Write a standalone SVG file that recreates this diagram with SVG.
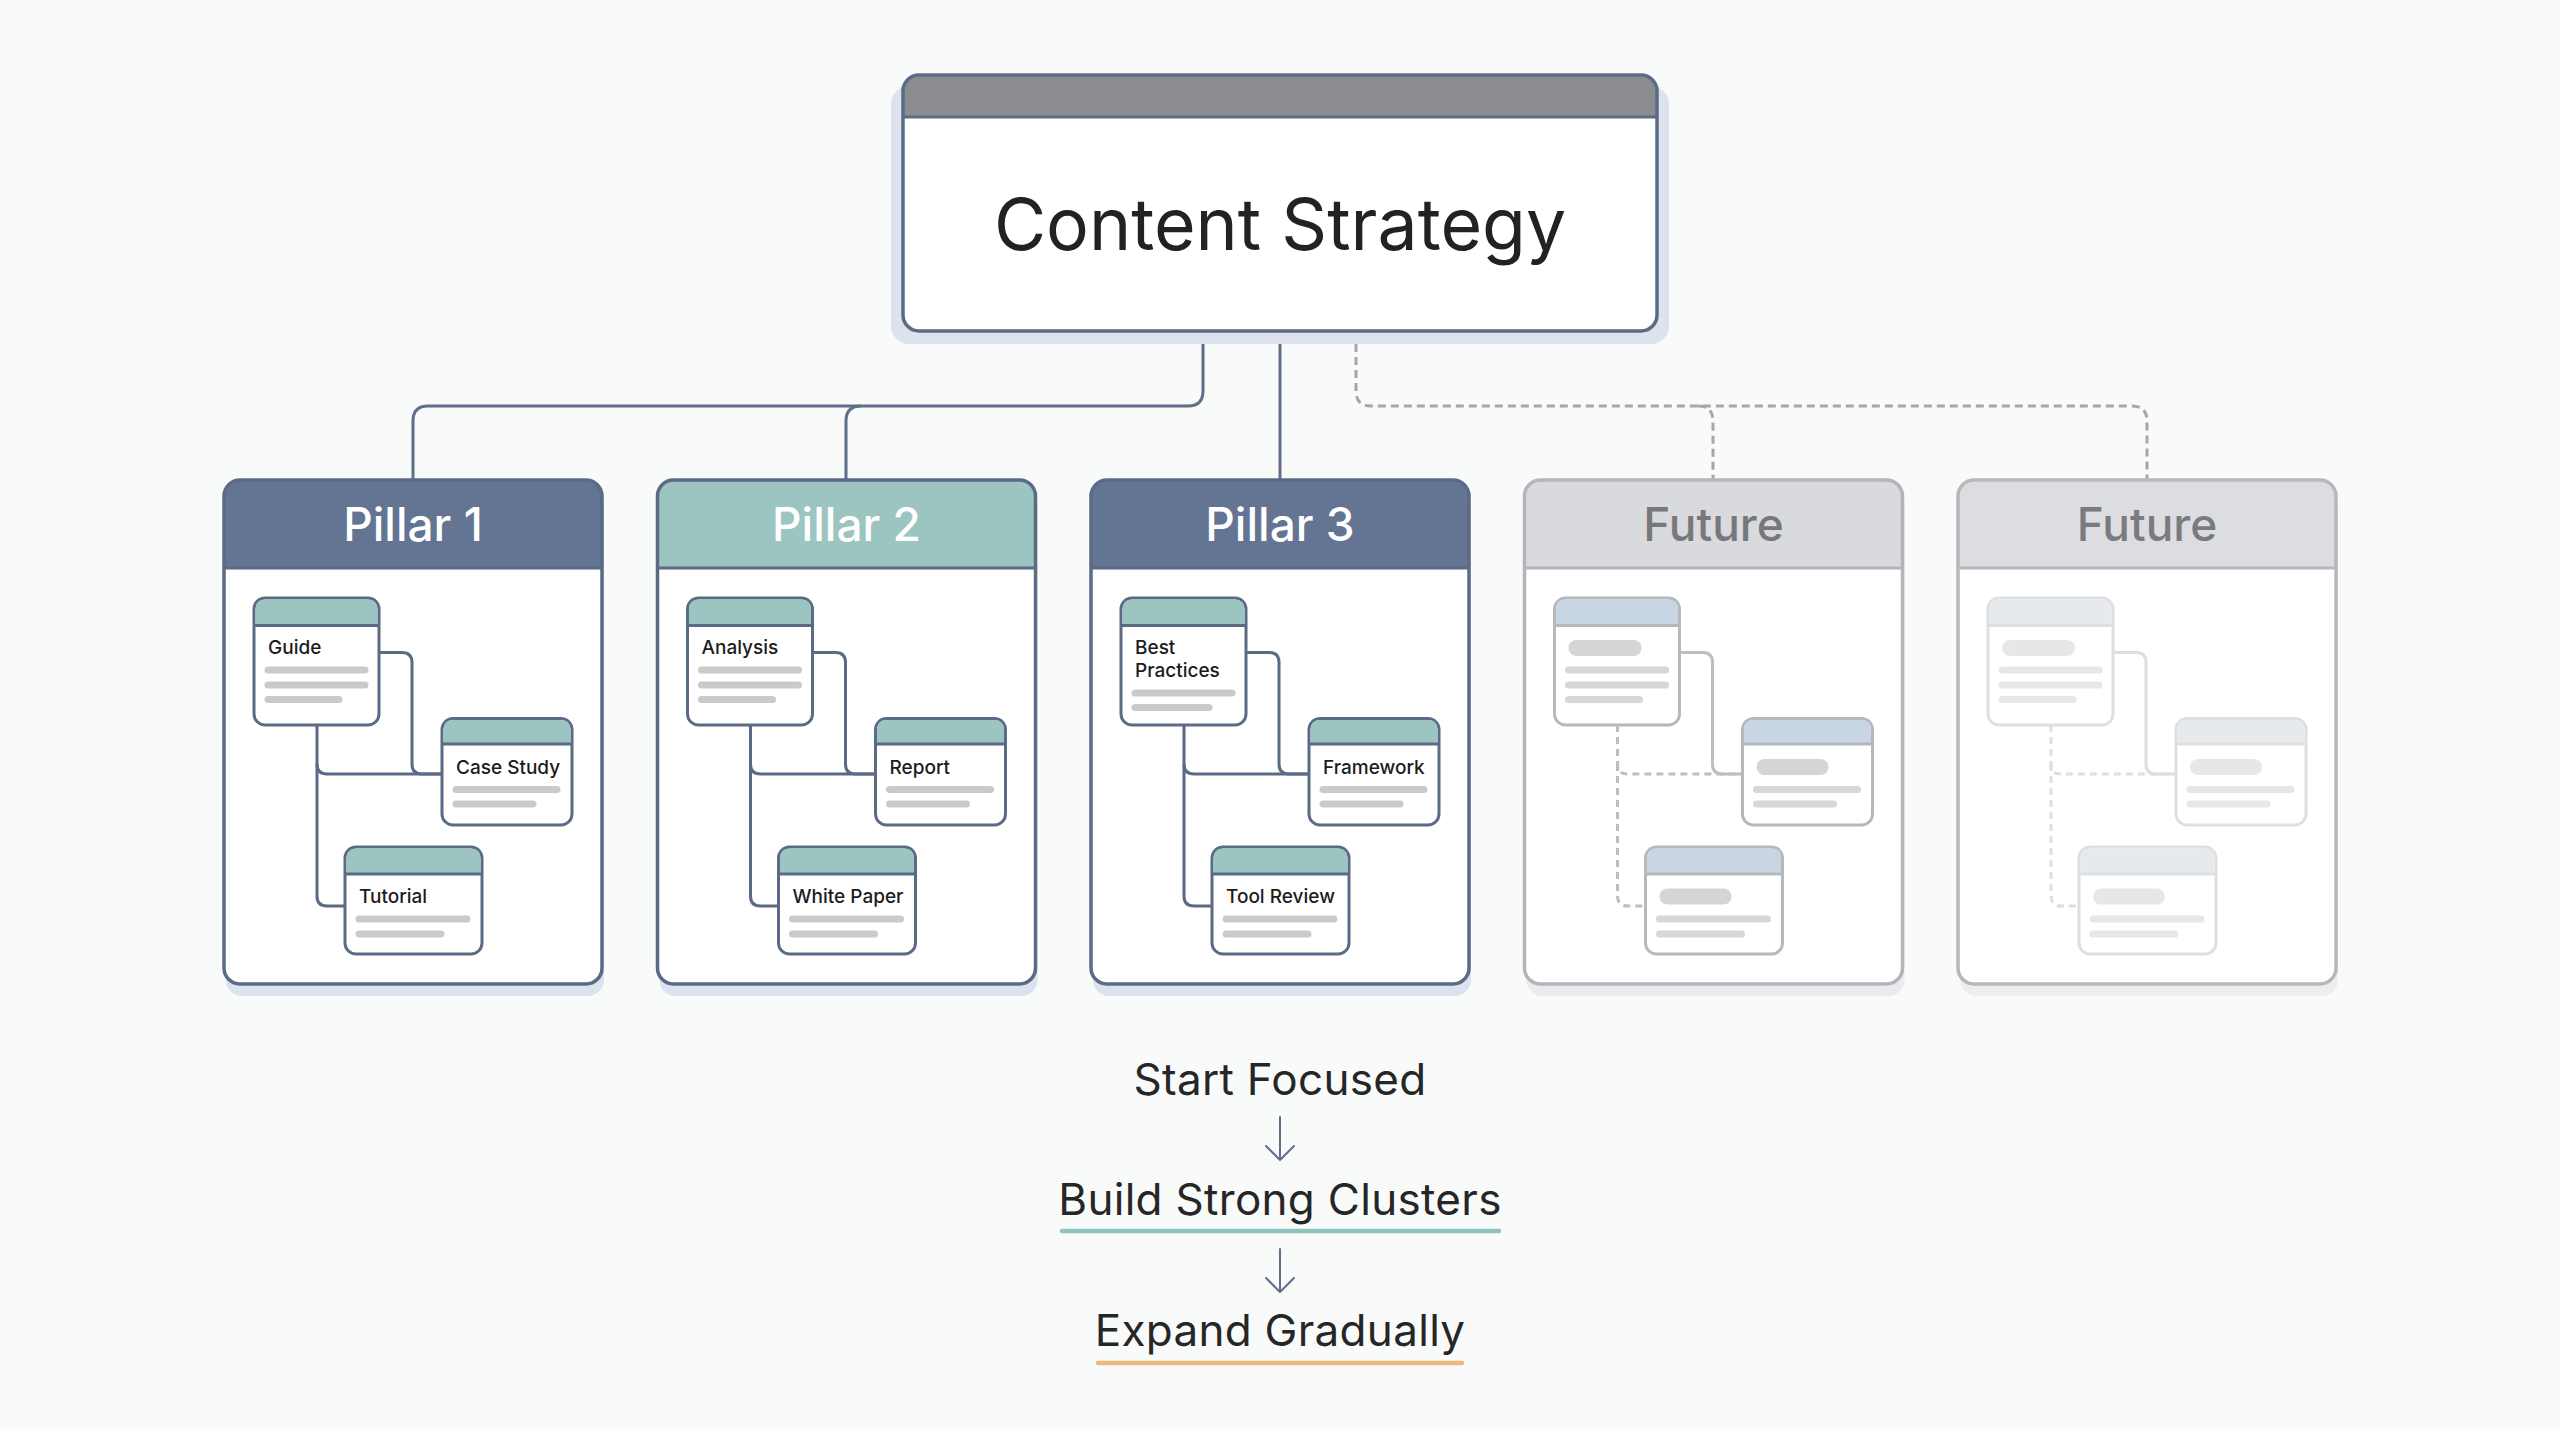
<svg xmlns="http://www.w3.org/2000/svg" width="2560" height="1429" viewBox="0 0 2560 1429">
<defs>
<style>
.bg{fill:#f9fafa}
.conn{fill:none;stroke:#5f6f89;stroke-width:3;stroke-linejoin:round}
.dash{fill:none;stroke:#a4a6aa;stroke-width:3;stroke-dasharray:8 5}
.hdr-blue{fill:#637592}
.hdr-teal{fill:#9cc5c2}
.title{font-family:Inter,"Noto Sans",sans-serif;font-size:46px;font-weight:500;fill:#ffffff;text-anchor:middle}
.lbl{font-family:Inter,"Noto Sans",sans-serif;font-size:19px;font-weight:500;fill:#1c1c1c}
.gl{stroke:#c9cacc;stroke-width:7;stroke-linecap:round}
.card{fill:#ffffff;stroke:#5b6b86;stroke-width:3}
.chdr{fill:#9cc5c2}
.inner{fill:none;stroke:#5b6b86;stroke-width:3}
.big{font-family:Inter,"Noto Sans",sans-serif;font-size:44px;letter-spacing:0.3px;fill:#262626;text-anchor:middle}
.shadow{fill:#dde3ee}
</style>
</defs>
<rect class="bg" x="0" y="0" width="2560" height="1429"/>

<g id="connectors">
<path class="conn" d="M1203,331 V391 Q1203,406 1188,406 H428 Q413,406 413,421 V480"/>
<path class="conn" d="M861,406 Q846,406 846,421 V480"/>
<path class="conn" d="M1280,331 V480"/>
<path class="dash" d="M1356,331 V391 Q1356,406 1371,406 H2132 Q2147,406 2147,421 V480"/>
<path class="dash" d="M1698,406 Q1713,406 1713,421 V480"/>
</g>

<g id="content-strategy">
<rect class="shadow" x="891" y="86" width="778" height="258" rx="18"/>
<rect x="903" y="75" width="754" height="256" rx="16" fill="#ffffff"/>
<path d="M903,117 V91 Q903,75 919,75 H1641 Q1657,75 1657,91 V117 Z" fill="#8b8c90"/>
<line x1="903" y1="117" x2="1657" y2="117" stroke="#5b6b86" stroke-width="3"/>
<rect x="903" y="75" width="754" height="256" rx="16" fill="none" stroke="#5b6b86" stroke-width="3.5"/>
<text x="1280" y="250" font-family="Inter,'Noto Sans',sans-serif" font-size="71.5" fill="#222222" text-anchor="middle">Content Strategy</text>
</g>

<!-- Pillar 1 -->
<g id="pillar1" transform="translate(224,0)">
<rect class="shadow" x="2" y="491" width="378" height="505" rx="16"/>
<rect x="0" y="480" width="378" height="504" rx="16" fill="#ffffff"/>
<path class="hdr-blue" d="M0,568 V496 Q0,480 16,480 H362 Q378,480 378,496 V568 Z"/>
<line x1="0" y1="568" x2="378" y2="568" stroke="#5b6b86" stroke-width="3"/>
<rect x="0" y="480" width="378" height="504" rx="16" fill="none" stroke="#5b6b86" stroke-width="3.5"/>
<text class="title" x="189" y="541">Pillar 1</text>
<path class="inner" d="M155,652.5 H178 Q188,652.5 188,662.5 V764 Q188,774 198,774 H218"/>
<path class="inner" d="M93,725 V764 Q93,774 103,774 H218"/>
<path class="inner" d="M93,764 V896 Q93,906 103,906 H121"/>
<g id="p1-guide">
<rect class="card" x="30" y="598" width="125" height="127" rx="11"/>
<path class="chdr" d="M31.5,625.5 V609 Q31.5,599.5 41,599.5 H144 Q153.5,599.5 153.5,609 V625.5 Z"/>
<line x1="30" y1="625.5" x2="155" y2="625.5" stroke="#5b6b86" stroke-width="3"/>
<text class="lbl" x="44" y="654">Guide</text>
<line class="gl" x1="44" y1="670" x2="141" y2="670"/>
<line class="gl" x1="44" y1="685" x2="141" y2="685"/>
<line class="gl" x1="44" y1="699.5" x2="115" y2="699.5"/>
</g>
<g id="p1-case">
<rect class="card" x="218" y="718.5" width="130" height="106.5" rx="11"/>
<path class="chdr" d="M219.5,744 V729.5 Q219.5,720 229,720 H337 Q346.5,720 346.5,729.5 V744 Z"/>
<line x1="218" y1="744" x2="348" y2="744" stroke="#5b6b86" stroke-width="3"/>
<text class="lbl" x="232" y="774">Case Study</text>
<line class="gl" x1="232" y1="789.5" x2="333" y2="789.5"/>
<line class="gl" x1="232" y1="804" x2="309" y2="804"/>
</g>
<g id="p1-tutorial">
<rect class="card" x="121" y="847" width="137" height="107" rx="11"/>
<path class="chdr" d="M122.5,874 V858 Q122.5,848.5 132,848.5 H247 Q256.5,848.5 256.5,858 V874 Z"/>
<line x1="121" y1="874" x2="258" y2="874" stroke="#5b6b86" stroke-width="3"/>
<text class="lbl" x="135" y="902.5">Tutorial</text>
<line class="gl" x1="135" y1="919" x2="243" y2="919"/>
<line class="gl" x1="135" y1="934" x2="217" y2="934"/>
</g>
</g>

<!-- Pillar 2 -->
<g id="pillar2" transform="translate(657.5,0)">
<rect class="shadow" x="2" y="491" width="378" height="505" rx="16"/>
<rect x="0" y="480" width="378" height="504" rx="16" fill="#ffffff"/>
<path class="hdr-teal" d="M0,568 V496 Q0,480 16,480 H362 Q378,480 378,496 V568 Z"/>
<line x1="0" y1="568" x2="378" y2="568" stroke="#5b6b86" stroke-width="3"/>
<rect x="0" y="480" width="378" height="504" rx="16" fill="none" stroke="#5b6b86" stroke-width="3.5"/>
<text class="title" x="189" y="541">Pillar 2</text>
<path class="inner" d="M155,652.5 H178 Q188,652.5 188,662.5 V764 Q188,774 198,774 H218"/>
<path class="inner" d="M93,725 V764 Q93,774 103,774 H218"/>
<path class="inner" d="M93,764 V896 Q93,906 103,906 H121"/>
<g id="p2-analysis">
<rect class="card" x="30" y="598" width="125" height="127" rx="11"/>
<path class="chdr" d="M31.5,625.5 V609 Q31.5,599.5 41,599.5 H144 Q153.5,599.5 153.5,609 V625.5 Z"/>
<line x1="30" y1="625.5" x2="155" y2="625.5" stroke="#5b6b86" stroke-width="3"/>
<text class="lbl" x="44" y="654">Analysis</text>
<line class="gl" x1="44" y1="670" x2="141" y2="670"/>
<line class="gl" x1="44" y1="685" x2="141" y2="685"/>
<line class="gl" x1="44" y1="699.5" x2="115" y2="699.5"/>
</g>
<g id="p2-report">
<rect class="card" x="218" y="718.5" width="130" height="106.5" rx="11"/>
<path class="chdr" d="M219.5,744 V729.5 Q219.5,720 229,720 H337 Q346.5,720 346.5,729.5 V744 Z"/>
<line x1="218" y1="744" x2="348" y2="744" stroke="#5b6b86" stroke-width="3"/>
<text class="lbl" x="232" y="774">Report</text>
<line class="gl" x1="232" y1="789.5" x2="333" y2="789.5"/>
<line class="gl" x1="232" y1="804" x2="309" y2="804"/>
</g>
<g id="p2-whitepaper">
<rect class="card" x="121" y="847" width="137" height="107" rx="11"/>
<path class="chdr" d="M122.5,874 V858 Q122.5,848.5 132,848.5 H247 Q256.5,848.5 256.5,858 V874 Z"/>
<line x1="121" y1="874" x2="258" y2="874" stroke="#5b6b86" stroke-width="3"/>
<text class="lbl" x="135" y="902.5">White Paper</text>
<line class="gl" x1="135" y1="919" x2="243" y2="919"/>
<line class="gl" x1="135" y1="934" x2="217" y2="934"/>
</g>
</g>

<!-- Pillar 3 -->
<g id="pillar3" transform="translate(1091,0)">
<rect class="shadow" x="2" y="491" width="378" height="505" rx="16"/>
<rect x="0" y="480" width="378" height="504" rx="16" fill="#ffffff"/>
<path class="hdr-blue" d="M0,568 V496 Q0,480 16,480 H362 Q378,480 378,496 V568 Z"/>
<line x1="0" y1="568" x2="378" y2="568" stroke="#5b6b86" stroke-width="3"/>
<rect x="0" y="480" width="378" height="504" rx="16" fill="none" stroke="#5b6b86" stroke-width="3.5"/>
<text class="title" x="189" y="541">Pillar 3</text>
<path class="inner" d="M155,652.5 H178 Q188,652.5 188,662.5 V764 Q188,774 198,774 H218"/>
<path class="inner" d="M93,725 V764 Q93,774 103,774 H218"/>
<path class="inner" d="M93,764 V896 Q93,906 103,906 H121"/>
<g id="p3-best">
<rect class="card" x="30" y="598" width="125" height="127" rx="11"/>
<path class="chdr" d="M31.5,625.5 V609 Q31.5,599.5 41,599.5 H144 Q153.5,599.5 153.5,609 V625.5 Z"/>
<line x1="30" y1="625.5" x2="155" y2="625.5" stroke="#5b6b86" stroke-width="3"/>
<text class="lbl" x="44" y="654">Best</text>
<text class="lbl" x="44" y="676.5">Practices</text>
<line class="gl" x1="44" y1="693" x2="141" y2="693"/>
<line class="gl" x1="44" y1="707.5" x2="118" y2="707.5"/>
</g>
<g id="p3-framework">
<rect class="card" x="218" y="718.5" width="130" height="106.5" rx="11"/>
<path class="chdr" d="M219.5,744 V729.5 Q219.5,720 229,720 H337 Q346.5,720 346.5,729.5 V744 Z"/>
<line x1="218" y1="744" x2="348" y2="744" stroke="#5b6b86" stroke-width="3"/>
<text class="lbl" x="232" y="774">Framework</text>
<line class="gl" x1="232" y1="789.5" x2="333" y2="789.5"/>
<line class="gl" x1="232" y1="804" x2="309" y2="804"/>
</g>
<g id="p3-toolreview">
<rect class="card" x="121" y="847" width="137" height="107" rx="11"/>
<path class="chdr" d="M122.5,874 V858 Q122.5,848.5 132,848.5 H247 Q256.5,848.5 256.5,858 V874 Z"/>
<line x1="121" y1="874" x2="258" y2="874" stroke="#5b6b86" stroke-width="3"/>
<text class="lbl" x="135" y="902.5">Tool Review</text>
<line class="gl" x1="135" y1="919" x2="243" y2="919"/>
<line class="gl" x1="135" y1="934" x2="217" y2="934"/>
</g>
</g>

<!-- Future 1 -->
<g id="future1" transform="translate(1524.5,0)">
<rect x="2" y="491" width="378" height="505" rx="16" fill="#e9ebee"/>
<rect x="0" y="480" width="378" height="504" rx="16" fill="#ffffff"/>
<path d="M0,568 V496 Q0,480 16,480 H362 Q378,480 378,496 V568 Z" fill="#d9dadd"/>
<line x1="0" y1="568" x2="378" y2="568" stroke="#b3b5b9" stroke-width="3"/>
<rect x="0" y="480" width="378" height="504" rx="16" fill="none" stroke="#b3b5b9" stroke-width="3.5"/>
<text class="title" x="189" y="541" style="fill:#77787c">Future</text>
<path d="M155,652.5 H178 Q188,652.5 188,662.5 V764 Q188,774 198,774 H218" fill="none" stroke="#bcbec2" stroke-width="3"/>
<path d="M93,725 V764 Q93,774 103,774 H218" fill="none" stroke="#bcbec2" stroke-width="3" stroke-dasharray="7 5"/>
<path d="M93,764 V896 Q93,906 103,906 H121" fill="none" stroke="#bcbec2" stroke-width="3" stroke-dasharray="7 5"/>
<g id="f1-a">
<rect x="30" y="598" width="125" height="127" rx="11" fill="#ffffff" stroke="#b6b8bc" stroke-width="3"/>
<path d="M31.5,625.5 V609 Q31.5,599.5 41,599.5 H144 Q153.5,599.5 153.5,609 V625.5 Z" fill="#c8d5e2"/>
<line x1="30" y1="625.5" x2="155" y2="625.5" stroke="#b6b8bc" stroke-width="3"/>
<rect x="44" y="640" width="73" height="16" rx="8" fill="#d4d5d7"/>
<line x1="44" y1="670" x2="141" y2="670" stroke="#d6d7d9" stroke-width="7" stroke-linecap="round"/>
<line x1="44" y1="685" x2="141" y2="685" stroke="#d6d7d9" stroke-width="7" stroke-linecap="round"/>
<line x1="44" y1="699.5" x2="115" y2="699.5" stroke="#d6d7d9" stroke-width="7" stroke-linecap="round"/>
</g>
<g id="f1-b">
<rect x="218" y="718.5" width="130" height="106.5" rx="11" fill="#ffffff" stroke="#b6b8bc" stroke-width="3"/>
<path d="M219.5,744 V729.5 Q219.5,720 229,720 H337 Q346.5,720 346.5,729.5 V744 Z" fill="#c8d5e2"/>
<line x1="218" y1="744" x2="348" y2="744" stroke="#b6b8bc" stroke-width="3"/>
<rect x="232" y="759" width="72" height="16" rx="8" fill="#d4d5d7"/>
<line x1="232" y1="789.5" x2="333" y2="789.5" stroke="#d6d7d9" stroke-width="7" stroke-linecap="round"/>
<line x1="232" y1="804" x2="309" y2="804" stroke="#d6d7d9" stroke-width="7" stroke-linecap="round"/>
</g>
<g id="f1-c">
<rect x="121" y="847" width="137" height="107" rx="11" fill="#ffffff" stroke="#b6b8bc" stroke-width="3"/>
<path d="M122.5,874 V858 Q122.5,848.5 132,848.5 H247 Q256.5,848.5 256.5,858 V874 Z" fill="#c8d5e2"/>
<line x1="121" y1="874" x2="258" y2="874" stroke="#b6b8bc" stroke-width="3"/>
<rect x="135" y="888.5" width="72" height="16" rx="8" fill="#d4d5d7"/>
<line x1="135" y1="919" x2="243" y2="919" stroke="#d6d7d9" stroke-width="7" stroke-linecap="round"/>
<line x1="135" y1="934" x2="217" y2="934" stroke="#d6d7d9" stroke-width="7" stroke-linecap="round"/>
</g>
</g>

<!-- Future 2 -->
<g id="future2" transform="translate(1958,0)">
<rect x="2" y="491" width="378" height="505" rx="16" fill="#eceef0"/>
<rect x="0" y="480" width="378" height="504" rx="16" fill="#ffffff"/>
<path d="M0,568 V496 Q0,480 16,480 H362 Q378,480 378,496 V568 Z" fill="#dcdde0"/>
<line x1="0" y1="568" x2="378" y2="568" stroke="#b6b8bb" stroke-width="3"/>
<rect x="0" y="480" width="378" height="504" rx="16" fill="none" stroke="#b6b8bb" stroke-width="3.5"/>
<text class="title" x="189" y="541" style="fill:#7a7b7f">Future</text>
<path d="M155,652.5 H178 Q188,652.5 188,662.5 V764 Q188,774 198,774 H218" fill="none" stroke="#dcdee0" stroke-width="3"/>
<path d="M93,725 V764 Q93,774 103,774 H218" fill="none" stroke="#dcdee0" stroke-width="3" stroke-dasharray="7 5"/>
<path d="M93,764 V896 Q93,906 103,906 H121" fill="none" stroke="#dcdee0" stroke-width="3" stroke-dasharray="7 5"/>
<g id="f2-a">
<rect x="30" y="598" width="125" height="127" rx="11" fill="#ffffff" stroke="#dddfe1" stroke-width="3"/>
<path d="M31.5,625.5 V609 Q31.5,599.5 41,599.5 H144 Q153.5,599.5 153.5,609 V625.5 Z" fill="#e7eaec"/>
<line x1="30" y1="625.5" x2="155" y2="625.5" stroke="#dddfe1" stroke-width="3"/>
<rect x="44" y="640" width="73" height="16" rx="8" fill="#e6e7e8"/>
<line x1="44" y1="670" x2="141" y2="670" stroke="#e6e7e8" stroke-width="7" stroke-linecap="round"/>
<line x1="44" y1="685" x2="141" y2="685" stroke="#e6e7e8" stroke-width="7" stroke-linecap="round"/>
<line x1="44" y1="699.5" x2="115" y2="699.5" stroke="#e6e7e8" stroke-width="7" stroke-linecap="round"/>
</g>
<g id="f2-b">
<rect x="218" y="718.5" width="130" height="106.5" rx="11" fill="#ffffff" stroke="#dddfe1" stroke-width="3"/>
<path d="M219.5,744 V729.5 Q219.5,720 229,720 H337 Q346.5,720 346.5,729.5 V744 Z" fill="#e7eaec"/>
<line x1="218" y1="744" x2="348" y2="744" stroke="#dddfe1" stroke-width="3"/>
<rect x="232" y="759" width="72" height="16" rx="8" fill="#e6e7e8"/>
<line x1="232" y1="789.5" x2="333" y2="789.5" stroke="#e6e7e8" stroke-width="7" stroke-linecap="round"/>
<line x1="232" y1="804" x2="309" y2="804" stroke="#e6e7e8" stroke-width="7" stroke-linecap="round"/>
</g>
<g id="f2-c">
<rect x="121" y="847" width="137" height="107" rx="11" fill="#ffffff" stroke="#dddfe1" stroke-width="3"/>
<path d="M122.5,874 V858 Q122.5,848.5 132,848.5 H247 Q256.5,848.5 256.5,858 V874 Z" fill="#e7eaec"/>
<line x1="121" y1="874" x2="258" y2="874" stroke="#dddfe1" stroke-width="3"/>
<rect x="135" y="888.5" width="72" height="16" rx="8" fill="#e6e7e8"/>
<line x1="135" y1="919" x2="243" y2="919" stroke="#e6e7e8" stroke-width="7" stroke-linecap="round"/>
<line x1="135" y1="934" x2="217" y2="934" stroke="#e6e7e8" stroke-width="7" stroke-linecap="round"/>
</g>
</g>

<!-- Bottom flow -->
<g id="start-focused">
<text class="big" x="1280" y="1095">Start Focused</text>
</g>
<g id="flow-arrows" fill="none" stroke="#5f6f89" stroke-width="2" stroke-linecap="round" stroke-linejoin="round">
<path d="M1280,1117 V1160 M1266,1146 L1280,1160 L1294,1146"/>
<path d="M1280,1249 V1292 M1266,1278 L1280,1292 L1294,1278"/>
</g>
<g id="build-clusters">
<text class="big" x="1280" y="1215">Build Strong Clusters</text>
<line x1="1062" y1="1231" x2="1499" y2="1231" stroke="#8fc3bd" stroke-width="4.5" stroke-linecap="round"/>
</g>
<g id="expand-gradually">
<text class="big" x="1280" y="1346">Expand Gradually</text>
<line x1="1098" y1="1363" x2="1462" y2="1363" stroke="#ecb877" stroke-width="4.5" stroke-linecap="round"/>
</g>
</svg>
